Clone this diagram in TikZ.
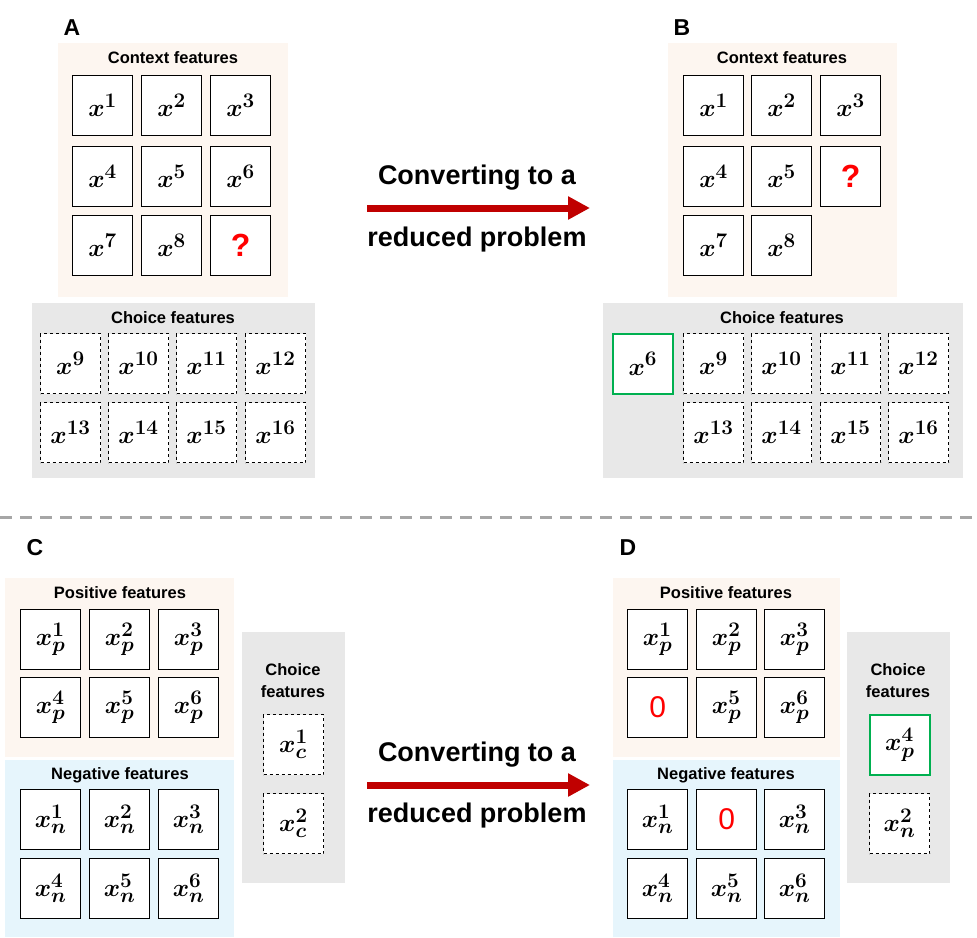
\documentclass[tikz,border=0pt]{standalone}
\usepackage{bm}
\usepackage{fontspec}
\setmainfont{Liberation Sans}
\usetikzlibrary{arrows.meta}
\definecolor{peach}{RGB}{253,246,240}
\definecolor{lblue}{RGB}{230,245,252}
\definecolor{lgray}{RGB}{232,232,232}
\definecolor{gfr}{RGB}{0,176,80}
\definecolor{dred}{RGB}{192,0,0}
\begin{document}
\begin{tikzpicture}[x=1pt,y=-1pt,
 cell/.style={draw,line width=1.2pt,fill=white,minimum size=60pt,inner sep=0pt,anchor=north west,font=\fontsize{30}{34}\selectfont},
 dcell/.style={cell,dashed,line width=1pt},
 gcell/.style={cell,draw=gfr,line width=1.6pt},
 lab/.style={font=\bfseries\fontsize{16.5}{20}\selectfont},
 big/.style={font=\bfseries\fontsize{23}{26}\selectfont},
 conv/.style={font=\bfseries\fontsize{27}{31}\selectfont,align=center},
 arr/.style={-{Triangle[length=22pt,width=22pt]},line width=7pt,dred},
 q/.style={text=red,font=\bfseries\fontsize{32}{36}\selectfont}]
\useasboundingbox (0,0) rectangle (977,937);
% ---------- A ----------
\fill[peach] (58,43) rectangle (288,297);
\fill[lgray] (32,303) rectangle (315,478);
\node[big] (la) at (72,28) {A};
\node[lab] (ca) at (173,58) {Context features};
\node[lab] (cha) at (173,318) {Choice features};
\foreach \i/\c/\r in {1/72/75,2/141/75,3/210/75,4/72/146,5/141/146,6/210/146,7/72/215,8/141/215}
  \node[cell] (a\i) at (\c,\r) {$\bm{x}^{\bm{\i}}$};
\node[cell,q] (aq) at (210,215) {?};
\foreach \i/\c/\r in {9/40/333,10/108/333,11/176/333,12/245/333,13/40/402,14/108/402,15/176/402,16/245/402}
  \node[dcell] (ac\i) at (\c,\r) {$\bm{x}^{\bm{\i}}$};
% ---------- B ----------
\fill[peach] (668,43) rectangle (897,297);
\fill[lgray] (603,303) rectangle (963,478);
\node[big] (lb) at (682,28) {B};
\node[lab] (cb) at (782,58) {Context features};
\node[lab] (chb) at (782,318) {Choice features};
\foreach \i/\c/\r in {1/683/75,2/751/75,3/820/75,4/683/146,5/751/146,7/683/215,8/751/215}
  \node[cell] (b\i) at (\c,\r) {$\bm{x}^{\bm{\i}}$};
\node[cell,q] (bq) at (820,146) {?};
\node[gcell] (bg) at (612,333) {$\bm{x}^{\bm{6}}$};
\foreach \i/\c/\r in {9/683/333,10/751/333,11/820/333,12/888/333,13/683/402,14/751/402,15/820/402,16/888/402}
  \node[dcell] (bc\i) at (\c,\r) {$\bm{x}^{\bm{\i}}$};
% arrow 1
\node[conv] (t1) at (477,178) {Converting to a};
\node[conv] (t2) at (477,240) {reduced problem};
\coordinate (s1) at (367,208); \coordinate (e1) at (590,208);
\draw[arr] (s1) -- (e1);
% separator
\coordinate (sl) at (0,517); \coordinate (sr) at (977,517);
\draw[gray!70,line width=3pt,dash pattern=on 12pt off 8pt] (sl) -- (sr);
% ---------- C ----------
\fill[peach] (5,578) rectangle (234,757);
\fill[lblue] (5,760) rectangle (234,937);
\fill[lgray] (242,632) rectangle (345,883);
\node[big] (lc) at (35,548) {C};
\node[lab] (pc) at (120,593) {Positive features};
\node[lab] (nc) at (120,775) {Negative features};
\node[lab,align=center] (chc) at (293,681) {Choice\\[2pt]features};
\foreach \i/\c/\r in {1/20/609,2/89/609,3/158/609,4/20/677,5/89/677,6/158/677}
  \node[cell] (cp\i) at (\c,\r) {$\bm{x}_{\bm{p}}^{\bm{\i}}$};
\foreach \i/\c/\r in {1/20/789,2/89/789,3/158/789,4/20/858,5/89/858,6/158/858}
  \node[cell] (cn\i) at (\c,\r) {$\bm{x}_{\bm{n}}^{\bm{\i}}$};
\node[dcell] (cc1) at (263,714) {$\bm{x}_{\bm{c}}^{\bm{1}}$};
\node[dcell] (cc2) at (263,793) {$\bm{x}_{\bm{c}}^{\bm{2}}$};
% arrow 2
\node[conv] (t3) at (477,755) {Converting to a};
\node[conv] (t4) at (477,816) {reduced problem};
\coordinate (s2) at (367,785); \coordinate (e2) at (590,785);
\draw[arr] (s2) -- (e2);
% ---------- D ----------
\fill[peach] (613,578) rectangle (840,757);
\fill[lblue] (613,760) rectangle (840,937);
\fill[lgray] (847,632) rectangle (950,883);
\node[big] (ld) at (628,548) {D};
\node[lab] (pd) at (726,593) {Positive features};
\node[lab] (nd) at (726,775) {Negative features};
\node[lab,align=center] (chd) at (898,681) {Choice\\[2pt]features};
\foreach \i/\c/\r in {1/627/609,2/696/609,3/764/609,5/696/677,6/764/677}
  \node[cell] (dp\i) at (\c,\r) {$\bm{x}_{\bm{p}}^{\bm{\i}}$};
\node[cell,text=red,font=\fontsize{30}{34}\selectfont] (dp4) at (627,677) {0};
\foreach \i/\c/\r in {1/627/789,3/764/789,4/627/858,5/696/858,6/764/858}
  \node[cell] (dn\i) at (\c,\r) {$\bm{x}_{\bm{n}}^{\bm{\i}}$};
\node[cell,text=red,font=\fontsize{30}{34}\selectfont] (dn2) at (696,789) {0};
\node[gcell] (dg) at (869,714) {$\bm{x}_{\bm{p}}^{\bm{4}}$};
\node[dcell] (dc2) at (869,793) {$\bm{x}_{\bm{n}}^{\bm{2}}$};
\end{tikzpicture}
\end{document}
